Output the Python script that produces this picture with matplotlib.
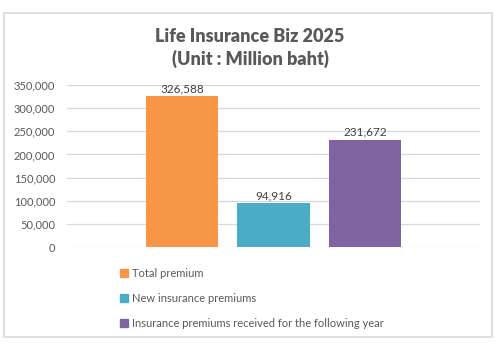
import matplotlib
matplotlib.use("Agg")
import matplotlib.pyplot as plt
from matplotlib.lines import Line2D
from matplotlib.patches import Rectangle

plt.rcParams['font.family'] = ['Lato', 'DejaVu Sans']

series = ["Total premium", "New insurance premiums",
          "Insurance premiums received for the following year"]
values = [326588, 94916, 231672]
colors = ["#F79646", "#4BACC6", "#8064A2"]
yticks = [0, 50000, 100000, 150000, 200000, 250000, 300000, 350000]
title = "Life Insurance Biz 2025\n(Unit : Million baht)"

W, H = 500, 350
fig = plt.figure(figsize=(5, 3.5), dpi=100)
fig.patches.append(Rectangle((4 / W, 1 - 337 / H), (492 - 4) / W, (337 - 13) / H,
                             transform=fig.transFigure, fill=False,
                             edgecolor="#D9D9D9", linewidth=1.2))

ax = fig.add_axes([67 / W, 1 - 247 / H, (480 - 67) / W, (247 - 85) / H])
xs = list(range(len(values)))
bars = ax.bar(xs, values, width=0.787, color=colors, zorder=3)
for x, v in zip(xs, values):
    ax.text(x, v + 4000, f"{v:,}", ha="center", va="bottom",
            fontsize=8.5, color="#404040")
ax.set_xlim(1 - 2.257, 1 + 2.257)
ax.set_ylim(0, 350000)
ax.set_yticks(yticks)
ax.set_yticklabels([f"{t:,}" for t in yticks])
ax.tick_params(axis="y", length=0, labelsize=8, labelcolor="#595959", pad=8.5)
ax.set_xticks([])
ax.grid(axis="y", color="#D9D9D9", linewidth=0.9, zorder=0)
for s in ax.spines.values():
    s.set_visible(False)

fig.text(0.5, 1 - 48 / H, title, ha="center", va="center", fontsize=13,
         fontweight="heavy", color="#595959", linespacing=1.35)

handles = [Line2D([], [], marker="s", linestyle="", markersize=5.5,
                  markerfacecolor=c, markeredgecolor=c) for c in colors]
leg = fig.legend(handles, series, loc="upper left",
                 bbox_to_anchor=(119 / W, 1 - 268 / H), frameon=False,
                 fontsize=8, labelspacing=1.25, handletextpad=0.3,
                 handlelength=0.9, borderpad=0, borderaxespad=0)
for t in leg.get_texts():
    t.set_color("#595959")

fig.savefig("out.png", dpi=100)
